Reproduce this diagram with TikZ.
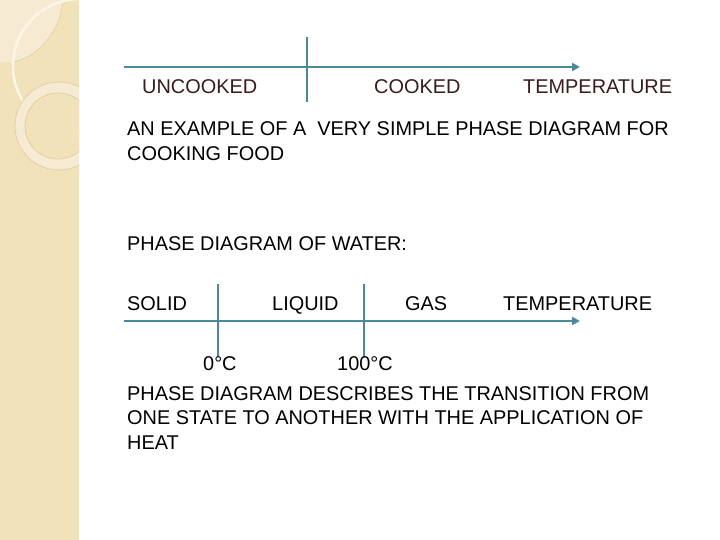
\documentclass[tikz,border=0pt]{standalone}
\usepackage{fontspec}
\setmainfont{Liberation Sans}
\usetikzlibrary{arrows.meta}
\definecolor{axisteal}{RGB}{70,138,156}
\definecolor{maroontext}{RGB}{58,28,26}
\definecolor{strip}{RGB}{242,226,186}
\definecolor{striplight}{RGB}{246,235,210}
\definecolor{ringline}{RGB}{224,204,158}
\definecolor{ringwhite}{RGB}{252,246,230}
\tikzset{
  axis/.style={draw=axisteal, line width=2.6pt},
  axisarrow/.style={axis, -{Triangle[length=8pt,width=8pt]}},
  tick/.style={draw=axisteal, line width=2.6pt},
  lbl/.style={anchor=base west, inner sep=0pt, font=\fontsize{19.9}{24}\selectfont},
  toplbl/.style={lbl, text=maroontext},
  body/.style={lbl, align=left, font=\fontsize{19.9}{24.5}\selectfont},
}
\begin{document}
\begin{tikzpicture}[x=1pt,y=-1pt]
\useasboundingbox (0,0) rectangle (720,540);
\fill[white] (0,0) rectangle (720,540);
% decorative strip
\begin{scope}
\clip (0,0) rectangle (79,540);
\fill[strip] (0,0) rectangle (79,540);
\fill[striplight] (0,0) -- (63,0) .. controls (60,35) and (35,58) .. (13,62) -- (0,62) -- cycle;
\draw[ringline, line width=0.5pt] (63,0) .. controls (60,35) and (35,58) .. (13,62);
\draw[ringwhite, line width=2.5pt] (80,66) circle[radius=67];
\fill[striplight] (59,126) circle[radius=44];
\fill[strip] (58,126) circle[radius=33];
\draw[ringline, line width=0.7pt] (59,126) circle[radius=44];
\draw[ringline, line width=0.7pt] (58,126) circle[radius=33];
\end{scope}
% top axis
\coordinate (a1s) at (124,67);
\coordinate (a1e) at (580,67);
\coordinate (t1a) at (307,37);
\coordinate (t1b) at (307,102);
\draw[axisarrow] (a1s) -- (a1e);
\draw[tick] (t1a) -- (t1b);
\node[toplbl] (uncooked) at (142,94) {UNCOOKED};
\node[toplbl] (cooked) at (374,94) {COOKED};
\node[toplbl] (temp1) at (523,94) {TEMPERATURE};
\node[body] (example) at (127,160.5) {AN EXAMPLE OF A \ VERY SIMPLE PHASE DIAGRAM FOR\\COOKING FOOD};
\node[body] (water) at (127,250) {PHASE DIAGRAM OF WATER:};
% bottom axis
\coordinate (a2s) at (124,321);
\coordinate (a2e) at (580,321);
\coordinate (t2a) at (218,284);
\coordinate (t2b) at (218,357);
\coordinate (t3a) at (364,284);
\coordinate (t3b) at (364,357);
\draw[axisarrow] (a2s) -- (a2e);
\draw[tick] (t2a) -- (t2b);
\draw[tick] (t3a) -- (t3b);
\node[lbl] (solid) at (127,310) {SOLID};
\node[lbl] (liquid) at (272,310) {LIQUID};
\node[lbl] (gas) at (405,310) {GAS};
\node[lbl] (temp2) at (503,310) {TEMPERATURE};
\node[lbl] (zero) at (203,370) {0\textdegree C};
\node[lbl] (hundred) at (337,370) {100\textdegree C};
\node[body] (describes) at (127,449) {PHASE DIAGRAM DESCRIBES THE TRANSITION FROM\\ONE STATE TO ANOTHER WITH THE APPLICATION OF\\HEAT};
\end{tikzpicture}
\end{document}
